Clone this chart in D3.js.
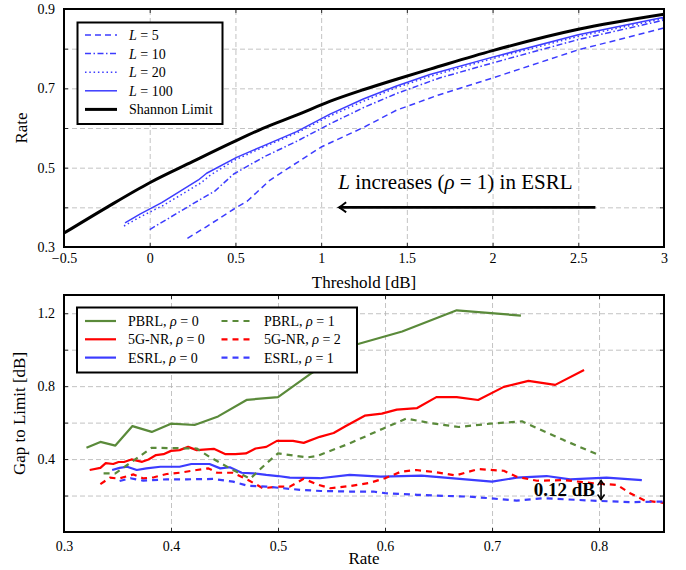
<!DOCTYPE html>
<html>
<head>
<meta charset="utf-8">
<script src="https://cdn.jsdelivr.net/npm/d3@7"></script>
<style>
  body { margin: 0; background: #fff; }
  svg, svg text { font-family: "Liberation Serif", "DejaVu Serif", serif; }
  .grid line { stroke: #b4b4b4; stroke-width: 0.8; stroke-dasharray: 5,3; }
  .grid path { display: none; }
  .tick-in line { stroke: #000; stroke-width: 0.8; }
  .tick-in path { display: none; }
  .tick-in text { font-size: 14px; fill: #000; font-family: "Liberation Serif", serif; }
</style>
</head>
<body>
<svg id="chart" width="686" height="570"></svg>
<script>
// ---- top panel: rate vs threshold ----
var threshShannon = [-0.5, -0.25, 0, 0.25, 0.47, 0.66, 0.86, 1.05, 1.25, 1.44, 1.64, 2.0, 2.5, 3.0];
var rateShannon   = [0.335, 0.40, 0.462, 0.515, 0.561, 0.599, 0.633, 0.667, 0.697, 0.723, 0.749, 0.795, 0.849, 0.887];

var threshL100 = [-0.144, -0.057, 0.07, 0.284, 0.332, 0.507, 0.663, 0.857, 1.052, 1.246, 1.44, 1.635, 1.995, 2.5, 3.0];
var rateL100   = [0.361, 0.383, 0.412, 0.469, 0.486, 0.526, 0.555, 0.591, 0.635, 0.673, 0.706, 0.735, 0.778, 0.835, 0.879];

var threshL20 = [-0.15, -0.05, 0.08, 0.3, 0.35, 0.5, 0.66, 0.86, 1.05, 1.25, 1.44, 1.64, 2.0, 2.5, 3.0];
var rateL20   = [0.353, 0.377, 0.405, 0.462, 0.48, 0.52, 0.551, 0.588, 0.630, 0.668, 0.702, 0.731, 0.775, 0.831, 0.876];

var threshL10 = [0.0, 0.28, 0.38, 0.49, 0.67, 0.86, 1.05, 1.25, 1.44, 1.69, 2.0, 2.5, 3.0];
var rateL10   = [0.344, 0.416, 0.441, 0.484, 0.528, 0.567, 0.610, 0.652, 0.687, 0.726, 0.764, 0.823, 0.872];

var threshL5 = [0.22, 0.33, 0.50, 0.57, 0.70, 0.82, 1.0, 1.25, 1.44, 1.69, 2.0, 2.5, 3.0];
var rateL5   = [0.322, 0.351, 0.398, 0.416, 0.468, 0.502, 0.552, 0.602, 0.645, 0.684, 0.726, 0.797, 0.852];

var topXTicks = [-0.5, 0, 0.5, 1, 1.5, 2, 2.5, 3];
var topYTicks = [0.3, 0.5, 0.7, 0.9];
var topYGrid  = [0.3, 0.4, 0.5, 0.6, 0.7, 0.8, 0.9];

// ---- bottom panel: gap to limit vs rate ----
var ratePbrl0 = [0.321, 0.334, 0.348, 0.364, 0.382, 0.400, 0.422, 0.444, 0.471, 0.500, 0.530, 0.574, 0.616, 0.667, 0.727];
var gapPbrl0  = [0.462, 0.494, 0.474, 0.581, 0.549, 0.594, 0.587, 0.634, 0.725, 0.740, 0.866, 1.03, 1.10, 1.216, 1.187];

var ratePbrl1 = [0.337, 0.348, 0.382, 0.424, 0.436, 0.458, 0.474, 0.489, 0.500, 0.527, 0.536, 0.567, 0.598, 0.620, 0.642, 0.669, 0.698, 0.728, 0.767, 0.800];
var gapPbrl1  = [0.322, 0.322, 0.462, 0.458, 0.412, 0.34, 0.292, 0.376, 0.431, 0.409, 0.416, 0.486, 0.567, 0.622, 0.598, 0.576, 0.594, 0.607, 0.504, 0.422];

var rateNr0 = [0.324, 0.334, 0.339, 0.346, 0.351, 0.356, 0.363, 0.373, 0.379, 0.386, 0.393, 0.400, 0.408, 0.416, 0.424, 0.440, 0.451, 0.460, 0.470, 0.479, 0.489, 0.499, 0.514, 0.524, 0.539, 0.552, 0.563, 0.581, 0.597, 0.611, 0.630, 0.648, 0.667, 0.687, 0.711, 0.734, 0.759, 0.786];
var gapNr0  = [0.34, 0.352, 0.378, 0.373, 0.384, 0.384, 0.398, 0.385, 0.398, 0.422, 0.427, 0.445, 0.449, 0.467, 0.449, 0.456, 0.427, 0.427, 0.431, 0.458, 0.467, 0.50, 0.50, 0.489, 0.522, 0.543, 0.58, 0.638, 0.649, 0.671, 0.68, 0.74, 0.74, 0.724, 0.796, 0.829, 0.807, 0.889];

var rateNr2 = [0.334, 0.343, 0.351, 0.365, 0.374, 0.384, 0.396, 0.408, 0.424, 0.435, 0.443, 0.458, 0.472, 0.486, 0.499, 0.511, 0.524, 0.537, 0.549, 0.567, 0.586, 0.600, 0.615, 0.629, 0.648, 0.666, 0.687, 0.711, 0.723, 0.742, 0.767, 0.795, 0.817, 0.829, 0.843, 0.86];
var gapNr2  = [0.263, 0.298, 0.293, 0.316, 0.294, 0.30, 0.318, 0.325, 0.34, 0.349, 0.325, 0.325, 0.285, 0.24, 0.249, 0.249, 0.292, 0.26, 0.24, 0.252, 0.27, 0.295, 0.331, 0.34, 0.328, 0.31, 0.345, 0.336, 0.303, 0.281, 0.285, 0.267, 0.258, 0.213, 0.172, 0.16];

var rateEsrl0 = [0.345, 0.352, 0.359, 0.368, 0.377, 0.390, 0.408, 0.419, 0.436, 0.446, 0.455, 0.466, 0.477, 0.489, 0.500, 0.511, 0.539, 0.567, 0.596, 0.634, 0.667, 0.700, 0.723, 0.751, 0.773, 0.807, 0.840];
var gapEsrl0  = [0.34, 0.352, 0.358, 0.34, 0.349, 0.358, 0.358, 0.373, 0.373, 0.349, 0.355, 0.325, 0.322, 0.313, 0.307, 0.298, 0.295, 0.313, 0.304, 0.309, 0.293, 0.276, 0.298, 0.307, 0.289, 0.298, 0.285];

var rateEsrl1 = [0.352, 0.362, 0.374, 0.396, 0.415, 0.440, 0.458, 0.472, 0.489, 0.505, 0.521, 0.540, 0.567, 0.589, 0.600, 0.630, 0.655, 0.679, 0.698, 0.723, 0.748, 0.798, 0.829, 0.86];
var gapEsrl1  = [0.28, 0.295, 0.282, 0.289, 0.289, 0.291, 0.276, 0.253, 0.249, 0.24, 0.231, 0.225, 0.222, 0.222, 0.213, 0.204, 0.198, 0.194, 0.185, 0.172, 0.185, 0.171, 0.164, 0.167];

var botXTicks = [0.3, 0.4, 0.5, 0.6, 0.7, 0.8];
var botYTicks = [0.4, 0.8, 1.2];
var botYGrid  = [0.2, 0.4, 0.6, 0.8, 1.0, 1.2];

(function() {
    'use strict';

    var blue = "#3c3cff", red = "#ff0000", green = "#5a8a3a";
    var serif = "Liberation Serif, serif";

    var svg = d3.select("#chart");

    // plot frames
    var boxTop = {left: 64, top: 9, width: 600, height: 238};
    var boxBot = {left: 64, top: 295, width: 600, height: 237};

    var xT = d3.scaleLinear().domain([-0.5, 3]).range([boxTop.left, boxTop.left + boxTop.width]);
    var yT = d3.scaleLinear().domain([0.3, 0.9]).range([boxTop.top + boxTop.height, boxTop.top]);
    var xB = d3.scaleLinear().domain([0.3, 0.8607]).range([boxBot.left, boxBot.left + boxBot.width]);
    var yB = d3.scaleLinear().domain([0, 1.3]).range([boxBot.top + boxBot.height, boxBot.top]);

    function drawFrame(box, x, y, xTicks, yGrid, yLabels, fmtX, fmtY, xPad, id) {
        var g = svg.append("g");
        // grid
        g.append("g").attr("class", "grid")
            .attr("transform", "translate(0," + (box.top + box.height) + ")")
            .call(d3.axisBottom(x).tickValues(xTicks).tickSize(-box.height).tickFormat(""));
        g.append("g").attr("class", "grid")
            .attr("transform", "translate(" + box.left + ",0)")
            .call(d3.axisLeft(y).tickValues(yGrid).tickSize(-box.width).tickFormat(""));
        // inward ticks + labels
        g.append("g").attr("class", "tick-in")
            .attr("transform", "translate(0," + (box.top + box.height) + ")")
            .call(d3.axisBottom(x).tickValues(xTicks).tickSizeInner(-4).tickSizeOuter(0).tickPadding(xPad).tickFormat(fmtX));
        g.append("g").attr("class", "tick-in")
            .attr("transform", "translate(0," + box.top + ")")
            .call(d3.axisTop(x).tickValues(xTicks).tickSizeInner(-4).tickSizeOuter(0).tickFormat(""));
        g.append("g").attr("class", "tick-in")
            .attr("transform", "translate(" + box.left + ",0)")
            .call(d3.axisLeft(y).tickValues(yGrid).tickSizeInner(-4).tickSizeOuter(0).tickPadding(9)
                .tickFormat(function(d) {
                    return yLabels.some(function(v) { return Math.abs(v - d) < 1e-9; }) ? fmtY(d) : "";
                }));
        g.append("g").attr("class", "tick-in")
            .attr("transform", "translate(" + (box.left + box.width) + ",0)")
            .call(d3.axisRight(y).tickValues(yGrid).tickSizeInner(-4).tickSizeOuter(0).tickFormat(""));
        g.selectAll(".tick-in").attr("font-family", serif).attr("font-size", 14);

        svg.append("clipPath").attr("id", id)
            .append("rect").attr("x", box.left).attr("y", box.top)
            .attr("width", box.width).attr("height", box.height);
    }

    function drawBorder(box) {
        svg.append("rect")
            .attr("x", box.left).attr("y", box.top)
            .attr("width", box.width).attr("height", box.height)
            .attr("fill", "none").attr("stroke", "#000").attr("stroke-width", 2);
    }

    drawFrame(boxTop, xT, yT, topXTicks, topYGrid, topYTicks, d3.format(""), d3.format(".1f"), 6, "clipTop");
    drawFrame(boxBot, xB, yB, botXTicks, botYGrid, botYTicks, d3.format(".1f"), d3.format(".1f"), 9, "clipBot");

    function drawSeries(xs, ys, x, y, color, width, dash, clip, curve) {
        var line = d3.line().curve(curve || d3.curveLinear)
            .x(function(d) { return x(d[0]); }).y(function(d) { return y(d[1]); });
        svg.append("path")
            .datum(d3.zip(xs, ys))
            .attr("clip-path", "url(#" + clip + ")")
            .attr("fill", "none")
            .attr("stroke", color)
            .attr("stroke-width", width)
            .attr("stroke-dasharray", dash)
            .attr("stroke-linejoin", "round")
            .attr("d", line);
    }

    // top series
    var topSeries = [
        {label: ["L", " = 5"],   xs: threshL5,   ys: rateL5,   color: blue, width: 1.5, dash: "6,4"},
        {label: ["L", " = 10"],  xs: threshL10,  ys: rateL10,  color: blue, width: 1.5, dash: "6,2.5,1.5,2.5"},
        {label: ["L", " = 20"],  xs: threshL20,  ys: rateL20,  color: blue, width: 1.5, dash: "1.5,2.8"},
        {label: ["L", " = 100"], xs: threshL100, ys: rateL100, color: blue, width: 1.5, dash: null},
        {label: ["", "Shannon Limit"], xs: threshShannon, ys: rateShannon, color: "#000", width: 3, dash: null,
         curve: d3.curveMonotoneX}
    ];
    topSeries.forEach(function(s) {
        drawSeries(s.xs, s.ys, xT, yT, s.color, s.width, s.dash, "clipTop", s.curve);
    });

    // bottom series
    var botSeries = [
        {label: ["PBRL, ", "ρ", " = 0"],  xs: ratePbrl0, ys: gapPbrl0, color: green, dash: null, col: 0},
        {label: ["5G-NR, ", "ρ", " = 0"], xs: rateNr0,   ys: gapNr0,   color: red,   dash: null, col: 0},
        {label: ["ESRL, ", "ρ", " = 0"],  xs: rateEsrl0, ys: gapEsrl0, color: blue,  dash: null, col: 0},
        {label: ["PBRL, ", "ρ", " = 1"],  xs: ratePbrl1, ys: gapPbrl1, color: green, dash: "6,5", col: 1},
        {label: ["5G-NR, ", "ρ", " = 2"], xs: rateNr2,   ys: gapNr2,   color: red,   dash: "6,5", col: 1},
        {label: ["ESRL, ", "ρ", " = 1"],  xs: rateEsrl1, ys: gapEsrl1, color: blue,  dash: "6,5", col: 1}
    ];
    botSeries.forEach(function(s) { drawSeries(s.xs, s.ys, xB, yB, s.color, 2.2, s.dash, "clipBot"); });

    drawBorder(boxTop);
    drawBorder(boxBot);

    // axis labels
    svg.append("text").attr("x", 364).attr("y", 288).attr("text-anchor", "middle")
        .style("font-size", "17px").text("Threshold [dB]");
    svg.append("text").attr("transform", "translate(27," + (boxTop.top + boxTop.height / 2) + ") rotate(-90)")
        .attr("text-anchor", "middle").style("font-size", "17px").text("Rate");
    svg.append("text").attr("x", 364).attr("y", 564).attr("text-anchor", "middle")
        .style("font-size", "17px").text("Rate");
    svg.append("text").attr("transform", "translate(25," + (boxBot.top + boxBot.height / 2) + ") rotate(-90)")
        .attr("text-anchor", "middle").style("font-size", "17px").text("Gap to Limit [dB]");

    // top annotation + arrow
    var defs = svg.append("defs");
    defs.append("marker")
        .attr("id", "arrowHead").attr("viewBox", "-10 -6 12 12")
        .attr("refX", 0).attr("refY", 0)
        .attr("markerWidth", 12).attr("markerHeight", 12)
        .attr("markerUnits", "userSpaceOnUse")
        .attr("orient", "auto")
        .append("path").attr("d", "M-7,-5 Q-2,-1 0,0 Q-2,1 -7,5")
        .attr("fill", "none").attr("stroke", "#000").attr("stroke-width", 2);

    svg.append("line")
        .attr("x1", xT(2.6)).attr("y1", yT(0.4))
        .attr("x2", xT(1.105)).attr("y2", yT(0.4))
        .attr("stroke", "#000").attr("stroke-width", 2.6)
        .attr("marker-end", "url(#arrowHead)");

    var ann = svg.append("text").attr("x", xT(1.1)).attr("y", yT(0.446)).style("font-size", "21px");
    ann.append("tspan").style("font-style", "italic").text("L");
    ann.append("tspan").text(" increases (");
    ann.append("tspan").style("font-style", "italic").text("ρ");
    ann.append("tspan").text(" = 1) in ESRL");

    // bottom annotation: 0.12 dB double arrow
    defs.append("marker")
        .attr("id", "smallHead").attr("viewBox", "-6 -4 7 8")
        .attr("refX", 0).attr("refY", 0)
        .attr("markerWidth", 7).attr("markerHeight", 8)
        .attr("markerUnits", "userSpaceOnUse")
        .attr("orient", "auto-start-reverse")
        .append("path").attr("d", "M-5,-3.5 Q-1.5,-1 0,0 Q-1.5,1 -5,3.5")
        .attr("fill", "none").attr("stroke", "#000").attr("stroke-width", 1.5);
    svg.append("line")
        .attr("x1", xB(0.8) + 2).attr("y1", yB(0.283))
        .attr("x2", xB(0.8) + 2).attr("y2", yB(0.178))
        .attr("stroke", "#000").attr("stroke-width", 1.6)
        .attr("marker-start", "url(#smallHead)")
        .attr("marker-end", "url(#smallHead)");
    svg.append("text").attr("x", xB(0.8) - 4).attr("y", yB(0.2))
        .attr("text-anchor", "end").style("font-size", "19px").style("font-weight", "bold")
        .text("0.12 dB");

    // legends
    function legendText(x, y, parts, italicIdx) {
        var el = svg.append("text").attr("x", x).attr("y", y).attr("dy", "0.35em").style("font-size", "14px");
        parts.forEach(function(p, i) {
            if (p === "") return;
            el.append("tspan").style("font-style", i === italicIdx ? "italic" : "normal").text(p);
        });
    }

    svg.append("rect").attr("x", 77.5).attr("y", 22.5).attr("width", 145).attr("height", 101.5)
        .attr("fill", "#fff").attr("stroke", "#000").attr("stroke-width", 2);
    topSeries.forEach(function(s, i) {
        var yy = 35 + i * 18.6;
        svg.append("line").attr("x1", 85).attr("x2", 117).attr("y1", yy).attr("y2", yy)
            .attr("stroke", s.color).attr("stroke-width", s.width).attr("stroke-dasharray", s.dash);
        legendText(129, yy, s.label, 0);
    });

    svg.append("rect").attr("x", 77).attr("y", 307.5).attr("width", 280).attr("height", 65)
        .attr("fill", "#fff").attr("stroke", "#000").attr("stroke-width", 2);
    botSeries.forEach(function(s, i) {
        var row = i % 3;
        var yy = 321 + row * 18.3;
        var x0 = s.col === 0 ? 85 : 221.5;
        var tx = s.col === 0 ? 128 : 264;
        svg.append("line").attr("x1", x0).attr("x2", x0 + 31).attr("y1", yy).attr("y2", yy)
            .attr("stroke", s.color).attr("stroke-width", 2.2).attr("stroke-dasharray", s.dash);
        legendText(tx, yy, s.label, 1);
    });
})();
</script>
</body>
</html>
